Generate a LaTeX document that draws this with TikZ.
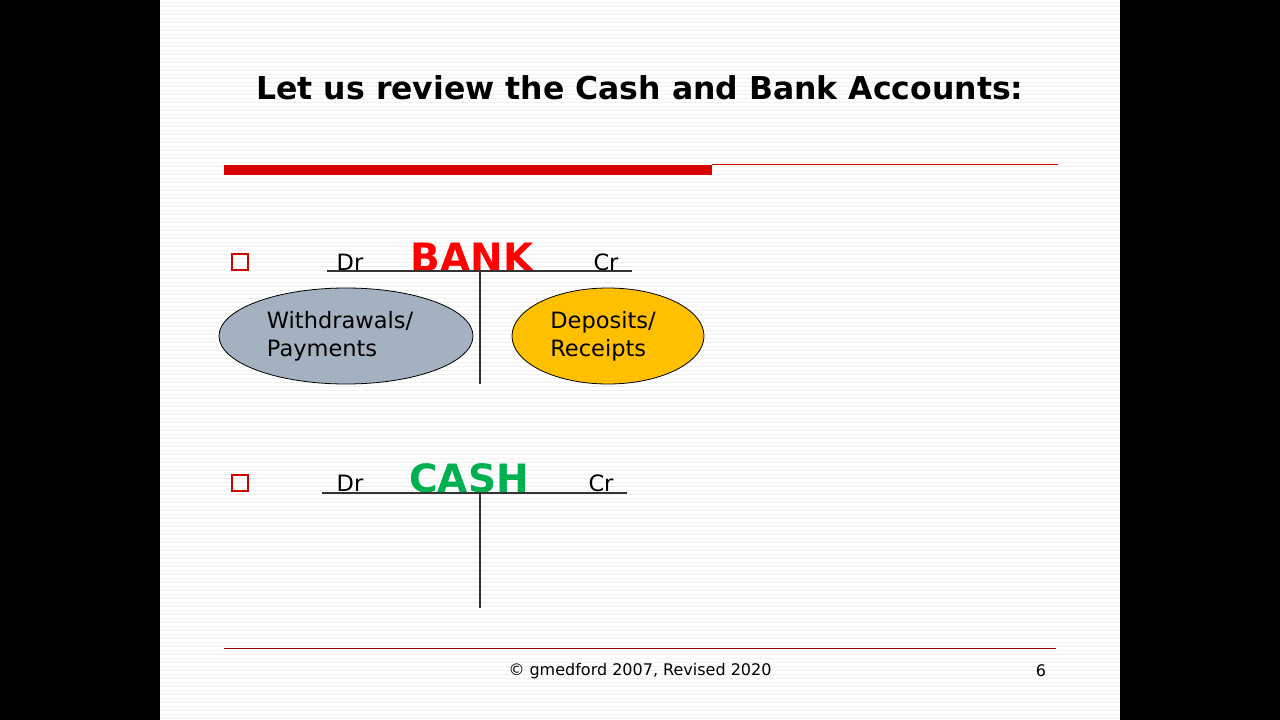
\documentclass[tikz,border=0pt]{standalone}
\usepackage{fontspec}
\setmainfont{DejaVu Sans}
\begin{document}
\begin{tikzpicture}[x=1pt,y=-1pt,
  lbl/.style={font=\fontsize{22.5}{28}\selectfont},
  bul/.style={draw=red!80!black,line width=2pt,minimum size=16pt,inner sep=0pt},
  tline/.style={line width=1.3pt,black!80}]
\fill[black] (0,0) rectangle (1280,720);
\fill[white] (160,0) rectangle (1120,720);
\foreach \y in {2,6,...,718} \draw[black!6,line width=0.5pt] (160,\y) -- (1120,\y);
\node (title) at (640,88) {\fontsize{31.5}{36}\selectfont\bfseries Let us review the Cash and Bank Accounts:};
\fill[red!85!black] (224,165) rectangle (712,175);
\draw[red!80!black,line width=0.8pt] (712,164) -- (1058,164);
% BANK
\node[bul] (b1) at (240,262) {};
\node[lbl] (dr1) at (350,262) {Dr};
\node[font=\fontsize{39}{44}\selectfont\bfseries,text=red] (bank) at (472,257) {BANK};
\node[lbl] (cr1) at (606,262) {Cr};
\coordinate (h1a) at (327,271); \coordinate (h1b) at (632,271);
\coordinate (v1a) at (480,271); \coordinate (v1b) at (480,384);
\draw[tline] (h1a) -- (h1b); \draw[tline] (v1a) -- (v1b);
\draw[line width=0.8pt,fill={rgb,255:red,163;green,177;blue,192}] (346,336) ellipse [x radius=127,y radius=48];
\node[lbl,align=left] (wd) at (340,336) {Withdrawals/\\Payments};
\draw[line width=0.8pt,fill={rgb,255:red,255;green,192;blue,0}] (608,336) ellipse [x radius=96,y radius=48];
\node[lbl,align=left] (dp) at (603,336) {Deposits/\\Receipts};
% CASH
\node[bul] (b2) at (240,483) {};
\node[lbl] (dr2) at (350,483) {Dr};
\node[font=\fontsize{39}{44}\selectfont\bfseries,text={rgb,255:red,0;green,176;blue,80}] (cash) at (469,478) {CASH};
\node[lbl] (cr2) at (601,483) {Cr};
\coordinate (h2a) at (322,493); \coordinate (h2b) at (627,493);
\coordinate (v2a) at (480,493); \coordinate (v2b) at (480,608);
\draw[tline] (h2a) -- (h2b); \draw[tline] (v2a) -- (v2b);
% footer
\draw[red!60!black,line width=0.6pt] (224,648) -- (1056,648);
\node[font=\fontsize{16}{19}\selectfont] (foot) at (640,671) {© gmedford 2007, Revised 2020};
\node[font=\fontsize{16}{19}\selectfont] (pg) at (1041,671) {6};
\end{tikzpicture}
\end{document}
